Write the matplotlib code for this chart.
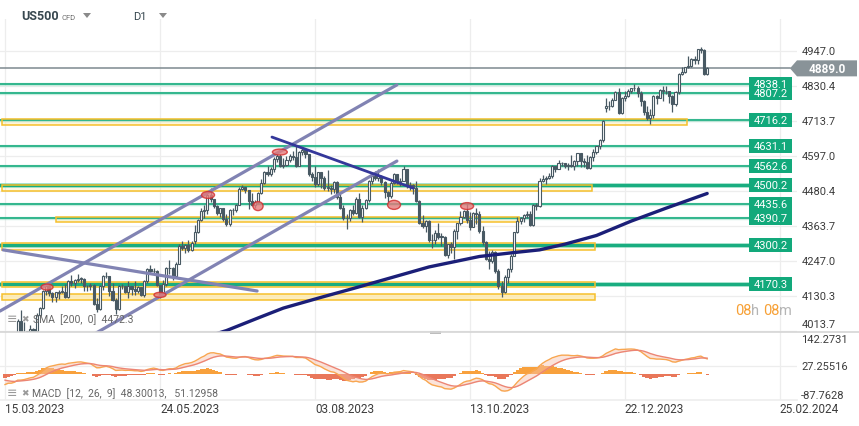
import numpy as np
import pandas as pd
import matplotlib
matplotlib.use("Agg")
import matplotlib.pyplot as plt
from matplotlib.patches import Rectangle, Ellipse, Polygon
from matplotlib.transforms import Affine2D, blended_transform_factory

plt.rcParams['font.family'] = ['Roboto', 'DejaVu Sans']

# ---------------- data (US500 CFD, D1, 15.03.2023 - 01.02.2024) ----------------
opens = [3950, 3935, 4000, 3955, 3998, 4046, 3980, 3990, 4012, 4019,
         4012, 4068, 4090, 4148, 4163, 4139, 4127, 4140, 4145, 4145,
         4127, 4181, 4172, 4185, 4188, 4188, 4162, 4165, 4168, 4102,
         4086, 4164, 4198, 4196, 4147, 4118, 4088, 4162, 4164, 4144,
         4163, 4155, 4148, 4159, 4133, 4181, 4220, 4213, 4214, 4166,
         4135, 4170, 4223, 4224, 4197, 4238, 4298, 4290, 4299, 4283,
         4312, 4344, 4383, 4413, 4416, 4468, 4452, 4431, 4407, 4423,
         4388, 4369, 4417, 4416, 4434, 4487, 4493, 4483, 4448, 4434,
         4445, 4473, 4506, 4543, 4537, 4555, 4586, 4597, 4565, 4566,
         4584, 4596, 4595, 4565, 4609, 4616, 4603, 4538, 4527, 4502,
         4542, 4522, 4491, 4491, 4486, 4511, 4459, 4424, 4390, 4389,
         4418, 4406, 4453, 4393, 4422, 4449, 4513, 4530, 4522, 4530,
         4510, 4478, 4463, 4507, 4536, 4511, 4515, 4552, 4497, 4500,
         4489, 4447, 4374, 4363, 4380, 4316, 4316, 4341, 4328, 4327,
         4268, 4302, 4295, 4346, 4372, 4393, 4412, 4384, 4361, 4407,
         4405, 4346, 4309, 4254, 4246, 4277, 4215, 4164, 4144, 4193,
         4219, 4263, 4342, 4381, 4389, 4400, 4404, 4368, 4435, 4431,
         4515, 4521, 4525, 4531, 4563, 4553, 4572, 4573, 4563, 4568,
         4563, 4579, 4606, 4580, 4576, 4558, 4594, 4611, 4629, 4650,
         4758, 4765, 4763, 4785, 4811, 4740, 4789, 4796, 4815, 4822,
         4822, 4808, 4780, 4742, 4725, 4732, 4798, 4791, 4816, 4812,
         4815, 4797, 4769, 4810, 4869, 4878, 4892, 4896, 4920, 4916,
         4952, 4949, 4869]
highs = [3962, 4009, 4003, 4000, 4055, 4082, 4045, 4015, 4035, 4025,
         4072, 4095, 4150, 4170, 4172, 4145, 4145, 4150, 4162, 4170,
         4185, 4200, 4188, 4205, 4195, 4190, 4168, 4175, 4170, 4125,
         4168, 4200, 4210, 4198, 4175, 4125, 4168, 4170, 4165, 4180,
         4165, 4180, 4162, 4160, 4185, 4222, 4235, 4225, 4217, 4168,
         4184, 4228, 4250, 4228, 4245, 4305, 4314, 4305, 4317, 4312,
         4368, 4386, 4425, 4435, 4480, 4490, 4455, 4435, 4425, 4425,
         4405, 4420, 4425, 4438, 4495, 4500, 4495, 4485, 4475, 4450,
         4478, 4520, 4548, 4562, 4560, 4595, 4610, 4605, 4590, 4598,
         4605, 4615, 4635, 4615, 4622, 4618, 4605, 4545, 4565, 4545,
         4545, 4530, 4550, 4500, 4513, 4512, 4470, 4432, 4405, 4420,
         4435, 4460, 4475, 4435, 4455, 4518, 4535, 4547, 4555, 4535,
         4512, 4480, 4512, 4540, 4538, 4525, 4563, 4554, 4510, 4502,
         4512, 4450, 4400, 4385, 4382, 4337, 4350, 4375, 4340, 4330,
         4305, 4310, 4352, 4375, 4415, 4418, 4440, 4410, 4410, 4425,
         4415, 4365, 4312, 4280, 4285, 4280, 4220, 4180, 4200, 4222,
         4270, 4345, 4392, 4395, 4405, 4412, 4415, 4438, 4440, 4522,
         4535, 4530, 4540, 4568, 4565, 4585, 4578, 4575, 4572, 4600,
         4582, 4608, 4606, 4590, 4600, 4598, 4620, 4630, 4652, 4716,
         4790, 4780, 4790, 4815, 4822, 4795, 4815, 4820, 4825, 4836,
         4830, 4812, 4782, 4762, 4755, 4800, 4800, 4820, 4830, 4830,
         4815, 4800, 4815, 4872, 4895, 4895, 4930, 4925, 4930, 4955,
         4960, 4955, 4895]
lows = [3883, 3918, 3945, 3935, 3995, 3975, 3950, 3950, 4005, 3998,
        4010, 4062, 4088, 4135, 4130, 4110, 4110, 4120, 4140, 4122,
        4125, 4162, 4158, 4178, 4172, 4148, 4148, 4150, 4100, 4078,
        4084, 4150, 4190, 4130, 4115, 4070, 4085, 4152, 4140, 4125,
        4135, 4135, 4140, 4130, 4128, 4172, 4205, 4205, 4162, 4125,
        4130, 4165, 4205, 4183, 4190, 4236, 4282, 4275, 4278, 4280,
        4305, 4340, 4380, 4390, 4405, 4445, 4425, 4400, 4395, 4380,
        4365, 4365, 4400, 4410, 4432, 4485, 4475, 4420, 4430, 4425,
        4440, 4470, 4505, 4530, 4530, 4545, 4578, 4560, 4558, 4562,
        4578, 4585, 4560, 4562, 4600, 4590, 4530, 4515, 4495, 4498,
        4490, 4485, 4480, 4470, 4475, 4455, 4420, 4385, 4355, 4380,
        4400, 4403, 4390, 4378, 4420, 4445, 4505, 4518, 4515, 4500,
        4458, 4442, 4458, 4505, 4505, 4497, 4512, 4490, 4485, 4470,
        4445, 4370, 4358, 4345, 4310, 4290, 4305, 4320, 4298, 4262,
        4258, 4275, 4255, 4320, 4368, 4390, 4372, 4350, 4360, 4370,
        4340, 4300, 4250, 4220, 4240, 4208, 4155, 4128, 4140, 4175,
        4210, 4262, 4340, 4370, 4378, 4390, 4365, 4362, 4418, 4428,
        4510, 4505, 4520, 4525, 4545, 4553, 4565, 4558, 4550, 4560,
        4550, 4565, 4560, 4560, 4555, 4555, 4580, 4605, 4620, 4645,
        4745, 4750, 4760, 4782, 4738, 4738, 4780, 4795, 4808, 4815,
        4795, 4762, 4735, 4718, 4702, 4725, 4770, 4790, 4780, 4805,
        4775, 4745, 4765, 4805, 4868, 4872, 4890, 4895, 4905, 4905,
        4940, 4866, 4866]
closes = [3937, 4005, 3961, 3995, 4046, 3979, 3991, 4012, 4019, 4011,
          4068, 4090, 4148, 4163, 4139, 4127, 4142, 4145, 4145, 4127,
          4181, 4172, 4185, 4188, 4188, 4162, 4165, 4168, 4102, 4086,
          4164, 4198, 4196, 4147, 4118, 4088, 4162, 4164, 4144, 4163,
          4155, 4148, 4159, 4133, 4181, 4220, 4213, 4214, 4166, 4135,
          4170, 4223, 4224, 4197, 4238, 4298, 4290, 4299, 4283, 4308,
          4344, 4383, 4413, 4416, 4468, 4452, 4431, 4407, 4423, 4388,
          4369, 4417, 4416, 4434, 4487, 4493, 4483, 4448, 4434, 4445,
          4473, 4506, 4543, 4537, 4555, 4586, 4597, 4565, 4566, 4584,
          4596, 4595, 4565, 4609, 4616, 4603, 4538, 4527, 4502, 4542,
          4522, 4491, 4491, 4486, 4511, 4459, 4424, 4390, 4389, 4418,
          4406, 4453, 4393, 4422, 4449, 4513, 4530, 4522, 4530, 4510,
          4478, 4463, 4507, 4536, 4511, 4515, 4552, 4497, 4500, 4489,
          4447, 4374, 4363, 4380, 4316, 4316, 4341, 4328, 4327, 4268,
          4302, 4295, 4346, 4372, 4393, 4412, 4384, 4361, 4407, 4405,
          4346, 4309, 4254, 4246, 4277, 4215, 4164, 4144, 4193, 4219,
          4263, 4342, 4381, 4389, 4400, 4404, 4368, 4435, 4431, 4515,
          4521, 4525, 4531, 4563, 4553, 4572, 4573, 4563, 4568, 4563,
          4579, 4606, 4580, 4576, 4558, 4594, 4611, 4629, 4650, 4712,
          4765, 4763, 4785, 4811, 4740, 4789, 4796, 4815, 4822, 4822,
          4808, 4780, 4742, 4725, 4732, 4798, 4791, 4816, 4812, 4815,
          4797, 4769, 4810, 4869, 4878, 4892, 4896, 4920, 4916, 4952,
          4949, 4869, 4889]
# closes before the visible window, only used to warm up the MACD
warmup_closes = [3864, 3893, 3848, 3935, 3933, 3959, 4010, 4023, 4039, 4031,
                 3969, 3939, 4012, 4060, 4057, 4056, 4100, 4111, 4058, 4117,
                 4159, 4219, 4176, 4151, 4204, 4158, 4121, 4130, 4177, 4176,
                 4188, 4130, 4119, 4037, 4031, 4052, 4010, 4022, 4010,
                 3991, 4022, 4086, 4088, 4026, 4032, 3958, 3902, 3895, 3960]

# SMA 200 (bar index, value)
sma_idx = [66, 70, 80, 88, 100, 110, 120, 134, 150, 160, 169, 177, 187, 198, 209, 222]
sma_val = [4002, 4015, 4057, 4090, 4126, 4155, 4185, 4227, 4262, 4274, 4284, 4303,
           4332, 4380, 4423, 4472]

# horizontal levels with green labels
levels = [4807.2, 4838.1, 4716.2, 4631.1, 4562.6, 4500.2, 4435.6, 4390.7, 4300.2, 4170.3]
thick_levels = [4500.2, 4300.2, 4170.3]
last_price = 4889.0

# yellow zones: start bar, end bar, bottom, top
zone_x0 = [-1, -1, 16, -1, -1, -1]
zone_x1 = [215.6, 185.6, 162.5, 186.5, 186.5, 186.5]
zone_lo = [4699, 4481, 4376, 4285, 4160, 4118]
zone_hi = [4721, 4501, 4393, 4307, 4177, 4137]
zone_alpha = [0.45, 0.35, 0.45, 0.35, 0.35, 0.85]

# trend lines: (x0, y0, x1, y1) in bars / price
chan_lines = [(-1.6, 4080, 123.9, 4834), (25.0, 3984, 123.9, 4580), (-0.6, 4284, 79.7, 4147)]
down_line = (84.4, 4660, 129.0, 4490)

# red ellipse marks: centre bar, centre price, width (bars), height (price)
ell_x = [13.3, 49.0, 64.2, 80.0, 86.9, 123.0, 146.1]
ell_y = [4160, 4134, 4467, 4430, 4610, 4434, 4430]
ell_w = [3.8, 3.8, 4.1, 3.2, 4.7, 4.1, 4.1]
ell_h = [20, 17, 23, 30, 20, 30, 23]

price_ticks = [4947.0, 4830.4, 4713.7, 4597.0, 4480.4, 4363.7, 4247.0, 4130.3, 4013.7]
macd_ticks = ['142.2731', '27.25516', '-87.7628']
macd_tick_vals = [142.2731, 27.25516, -87.7628]
date_labels = ['15.03.2023', '24.05.2023', '03.08.2023', '13.10.2023', '22.12.2023', '25.02.2024']
date_pos = [0, 49, 98, 147, 196, 245]

# ---------------- figure ----------------
W, H = 859, 427
fig = plt.figure(figsize=(W / 100, H / 100), dpi=100)
pxT = Affine2D().scale(1.0 / W, -1.0 / H).translate(0, 1) + fig.transFigure

ax = fig.add_axes([0, 1 - 333 / H, 797 / W, (333 - 20) / H])
mac = fig.add_axes([0, 1 - 401 / H, 797 / W, (401 - 333) / H])
for a in (ax, mac):
    a.set_axis_off()
    a.set_xlim(-1.58, 250.4)
ax.set_ylim(4010.3, 5053.5)
mac.set_ylim(-87.7628, 142.2731)

bt = blended_transform_factory(pxT, ax.transData)
bm = blended_transform_factory(pxT, mac.transData)
bd = blended_transform_factory(mac.transData, pxT)

grid_c = '#ededed'
for p in date_pos:
    ax.axvline(p, color=grid_c, lw=0.9, zorder=0)
    mac.axvline(p, color=grid_c, lw=0.9, zorder=0)
for p in price_ticks:
    ax.plot([0, 797], [p, p], transform=bt, color=grid_c, lw=0.9, zorder=0)
mac.plot([0, 797], [27.25516, 27.25516], transform=bm, color=grid_c, lw=0.9, zorder=0)
mac.plot([0, 797], [-87.7628, -87.7628], transform=bm, color=grid_c, lw=1.2, zorder=0,
         clip_on=False)

# separator between panels
fig.add_artist(plt.Line2D([0, W], [333, 333], transform=pxT, color='#d5d5d5', lw=1.2))
fig.add_artist(Rectangle((430, 331.5), 11, 3, transform=pxT, color='#bdbdbd', lw=0))

# zones
for x0, x1, lo, hi, al in zip(zone_x0, zone_x1, zone_lo, zone_hi, zone_alpha):
    ax.add_patch(Rectangle((x0, lo), x1 - x0, hi - lo, facecolor='#fdeab0', alpha=al,
                           edgecolor='none', zorder=1))
    ax.add_patch(Rectangle((x0, lo), x1 - x0, hi - lo, facecolor='none',
                           edgecolor='#f6c02c', lw=1.1, zorder=3.5))

# green levels
for lv in levels:
    lw = 2.4 if lv in thick_levels else 1.2
    ax.plot([0, 749], [lv, lv], transform=bt, color='#8fdcc0', lw=lw + 1.2, alpha=0.5, zorder=2)
    ax.plot([0, 749], [lv, lv], transform=bt, color='#19ad80', lw=lw, zorder=3)

# last price line
ax.plot([0, 790], [last_price, last_price], transform=bt, color='#7d898f', lw=1.1, zorder=3)

# candles
dark = '#485963'
x = np.arange(len(closes))
o = np.array(opens, float)
c = np.array(closes, float)
hi_ = np.array(highs, float)
lo_ = np.array(lows, float)
up = c >= o
ax.vlines(x, lo_, hi_, color=dark, lw=0.9, zorder=4)
body_lo = np.minimum(o, c)
body_h = np.maximum(np.abs(c - o), 2.0)
ax.bar(x[up], body_h[up], bottom=body_lo[up], width=0.66, facecolor='white',
       edgecolor=dark, lw=0.8, zorder=5)
ax.bar(x[~up], body_h[~up], bottom=body_lo[~up], width=0.66, facecolor=dark,
       edgecolor=dark, lw=0.8, zorder=5)

# SMA 200
ax.plot(sma_idx, sma_val, color='#1b1f78', lw=2.4, zorder=6, solid_capstyle='round')

# trend lines
for x0, y0, x1, y1 in chan_lines:
    ax.plot([x0, x1], [y0, y1], color='#8183b3', lw=2.3, zorder=6, solid_capstyle='round')
ax.plot([down_line[0], down_line[2]], [down_line[1], down_line[3]], color='#34379a',
        lw=2.0, zorder=6, solid_capstyle='round')

# ellipses
for ex, ey, ew, eh in zip(ell_x, ell_y, ell_w, ell_h):
    ax.add_patch(Ellipse((ex, ey), ew, eh, facecolor='#e57b7b', alpha=0.8,
                         edgecolor='#d22c2c', lw=1.0, zorder=8))

# level labels
green_box = '#12a97b'
for lv in levels:
    ax.add_patch(Rectangle((749, lv - 23.3), 43, 46.6, transform=bt, facecolor=green_box,
                           edgecolor='none', zorder=9, clip_on=False))
    ax.text(770.5, lv, f'{lv:.1f}', transform=bt, ha='center', va='center', color='white',
            fontsize=8, zorder=10, clip_on=False)

# last price box
ax.add_patch(Polygon([(790, last_price), (797, last_price + 26.7), (857, last_price + 26.7),
                      (857, last_price - 26.7), (797, last_price - 26.7)], closed=True,
                     transform=bt, facecolor='#899398', edgecolor='none', zorder=9,
                     clip_on=False))
ax.text(827, last_price, f'{last_price:.1f}', transform=bt, ha='center', va='center',
        color='white', fontsize=8.5, fontweight='bold', zorder=10, clip_on=False)

# price axis labels
for p in price_ticks:
    ypos = max(p, 4037)
    ax.text(802, ypos, f'{p:.1f}', transform=bt, ha='left', va='center', fontsize=8,
            color='#3c3c3c', clip_on=False)

# MACD panel
allc = pd.Series(warmup_closes + closes, dtype=float)
ema12 = allc.ewm(span=12, adjust=False).mean()
ema26 = allc.ewm(span=26, adjust=False).mean()
macd = (ema12 - ema26).to_numpy()
signal = pd.Series(macd).ewm(span=9, adjust=False).mean().to_numpy()
n = len(closes)
macd = macd[-n:]
signal = signal[-n:]
hist = macd - signal
mac.bar(x, hist, width=1.0, color=np.where(hist >= 0, '#f8a13d', '#e9775a'), lw=0, zorder=2)
mac.fill_between(x, macd, signal, color='#f7c2ae', alpha=0.45, lw=0, zorder=3)
mac.plot(x, macd, color='#f8a650', lw=1.0, zorder=4)
mac.plot(x, signal, color='#ec8574', lw=1.0, zorder=4)

macd_pos = [118.6, 27.25516, -70.8]
for lab, yp in zip(macd_ticks, macd_pos):
    mac.text(801, yp, lab, transform=bm, ha='left', va='center', fontsize=8,
             color='#3c3c3c', clip_on=False)

# date labels
for p, lab in zip(date_pos, date_labels):
    mac.text(p, 410, lab, transform=bd, ha='left', va='center', fontsize=8.5,
             color='#3c3c3c', clip_on=False)

# header
fig.text(21, 17, 'US500', transform=pxT, fontsize=9, fontweight='bold', color='#37474f',
         va='center')
fig.text(61, 18, 'CFD', transform=pxT, fontsize=5.5, color='#6d6d6d', va='center')
fig.text(133, 17.5, 'D1', transform=pxT, fontsize=8, color='#37474f', va='center')
for tx in (87, 163):
    fig.add_artist(Polygon([(tx - 4, 14), (tx + 4, 14), (tx, 19)], closed=True,
                           transform=pxT, facecolor='#8a8a8a', edgecolor='none'))

# indicator legends
for yy in (320, 394):
    fig.text(7, yy, '\u2261', transform=pxT, fontsize=9, color='#9a9a9a', va='center',
             family=['DejaVu Sans'])
    fig.text(21, yy - 0.5, '\u2716', transform=pxT, fontsize=6.5, color='#9a9a9a',
             va='center', family=['DejaVu Sans'])
fig.text(33, 320, 'SMA  [200,  0]  4472.3', transform=pxT, fontsize=7.5, color='#666666',
         va='center')
fig.text(32, 394, 'MACD  [12,  26,  9]  48.30013,   51.12958', transform=pxT, fontsize=7.5,
         color='#666666', va='center')

# countdown
fig.canvas.draw()
rend = fig.canvas.get_renderer()
cx = 735
for s, col in [('08', '#f7a035'), ('h ', '#b5b5b5'), ('08', '#f7a035'), ('m', '#b5b5b5')]:
    t = fig.text(cx, 311, s, transform=pxT, fontsize=10.5, color=col, va='center')
    cx += t.get_window_extent(renderer=rend).width

fig.savefig('out.png', dpi=100)
